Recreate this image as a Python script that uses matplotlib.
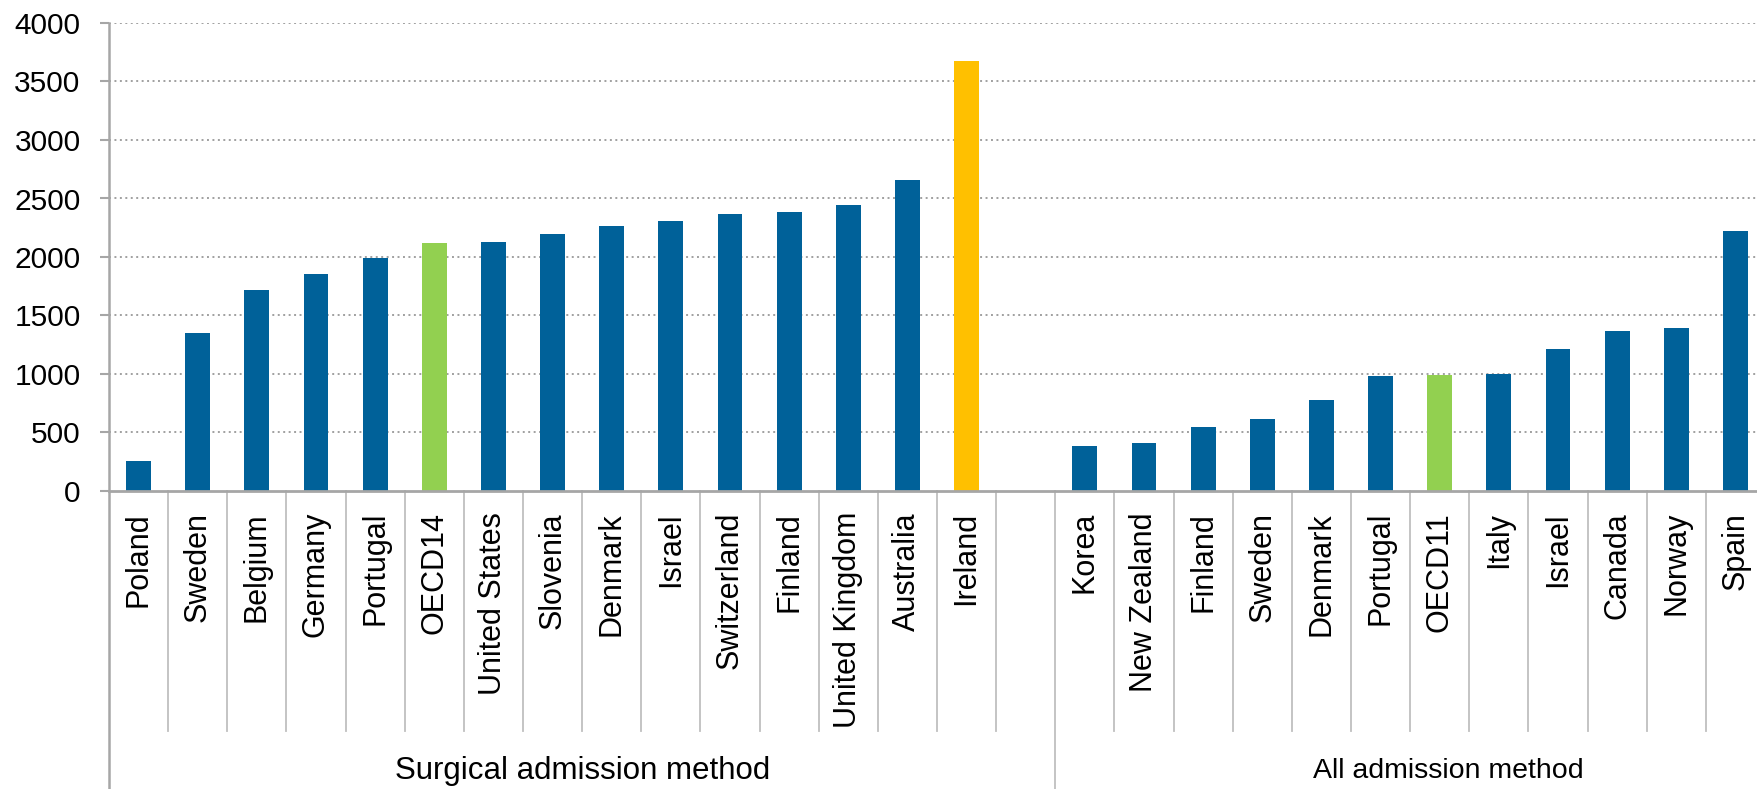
import numpy as np
import matplotlib
matplotlib.use("Agg")
import matplotlib.pyplot as plt

# admission rates by country, two groups
surgical_countries = ["Poland", "Sweden", "Belgium", "Germany", "Portugal", "OECD14",
                      "United States", "Slovenia", "Denmark", "Israel", "Switzerland",
                      "Finland", "United Kingdom", "Australia", "Ireland"]
surgical_values = [258, 1350, 1715, 1852, 1989, 2117, 2125, 2195, 2265, 2306, 2364,
                   2383, 2443, 2660, 3675]

all_countries = ["Korea", "New Zealand", "Finland", "Sweden", "Denmark", "Portugal",
                 "OECD11", "Italy", "Israel", "Canada", "Norway", "Spain"]
all_values = [383, 411, 545, 612, 778, 986, 991, 1000, 1214, 1368, 1396, 2219]

group_names = ["Surgical admission method", "All admission method"]

BLUE = "#006199"
GREEN = "#92D050"
ORANGE = "#FFC000"
GREY = "#A6A6A6"

plt.rcParams['font.family'] = ['Liberation Sans', 'DejaVu Sans']

# one empty slot between the two groups
labels = surgical_countries + [""] + all_countries
values = surgical_values + [np.nan] + all_values
colors = []
for name in labels:
    if name.startswith("OECD"):
        colors.append(GREEN)
    elif name == "Ireland":
        colors.append(ORANGE)
    else:
        colors.append(BLUE)

n = len(labels)
x = np.arange(n) + 0.5

fig = plt.figure(figsize=(17.57, 7.89), dpi=100)
ax = fig.add_axes([109 / 1757, 1 - 491 / 789, 1656 / 1757, 468 / 789])

ax.bar(x, np.nan_to_num(values), width=0.42, color=colors, zorder=3)

ax.set_xlim(0, n)
ax.set_ylim(0, 4000)
ax.set_yticks(np.arange(0, 4001, 500))
ax.tick_params(axis='y', labelsize=21.5, length=6.5, width=1.5, color=GREY, pad=14)
ax.set_xticks([])

for y in np.arange(500, 4001, 500):
    ax.axhline(y, color="#A0A0A0", linestyle=(0, (1, 1.8)), linewidth=1.4, zorder=1)

for side in ["top", "right", "bottom", "left"]:
    ax.spines[side].set_visible(False)
ax.axhline(0, color=GREY, linewidth=2, zorder=4, clip_on=False)

trans = ax.get_xaxis_transform()
short_end = -(731 - 491) / 468
long_end = -(789 - 491) / 468
group_edge = len(surgical_countries) + 1

# y axis line runs down through the category area
ax.plot([0, 0], [long_end, 1], color=GREY, linewidth=1.8, transform=trans, clip_on=False)
for k in range(1, n):
    end = long_end if k == group_edge else short_end
    ax.plot([k, k], [end, 0], color="#BFBFBF", linewidth=1.3, transform=trans, clip_on=False)

for xi, name in zip(x, labels):
    if name:
        ax.text(xi, -0.045, name, rotation=90, ha="center", va="top", fontsize=22,
                transform=trans)

ax.text(group_edge / 2, -0.598, group_names[0], ha="center", va="center", fontsize=22.5,
        transform=trans)
ax.text(22.65, -0.598, group_names[1], ha="center", va="center", fontsize=20.5,
        transform=trans)

fig.savefig("out.png", dpi=100)
